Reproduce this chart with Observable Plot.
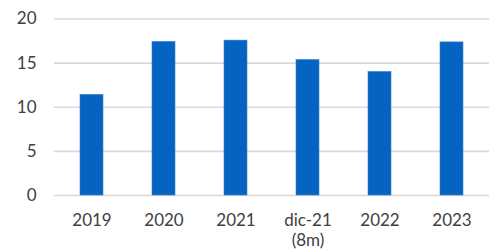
<!DOCTYPE html>
<html>
<head>
<meta charset="utf-8">
<script src="https://cdn.jsdelivr.net/npm/d3@7"></script>
<script src="https://cdn.jsdelivr.net/npm/@observablehq/plot@0.6"></script>
<style>
  html, body { margin: 0; padding: 0; background: #fff; }
  #chart { width: 489px; height: 252px; }
</style>
</head>
<body>
<div id="chart"></div>
<script>
const categories = ["2019", "2020", "2021", "dic-21", "2022", "2023"];
const tickLabels = ["2019", "2020", "2021", "dic-21\n(8m)", "2022", "2023"];
const values = [11.4, 17.4, 17.55, 15.35, 14.0, 17.35];
const yTicks = [0, 5, 10, 15, 20];

const data = categories.map((c, i) => ({cat: c, value: values[i]}));
const labelOf = new Map(categories.map((c, i) => [c, tickLabels[i]]));

const chart = Plot.plot({
  width: 489,
  height: 252,
  marginLeft: 54,
  marginRight: 0,
  marginTop: 18.5,
  marginBottom: 57,
  style: {fontFamily: "Lato, sans-serif", fontSize: "17px", color: "#404040", background: "#fff"},
  x: {domain: categories, paddingInner: 0.68, paddingOuter: 0.34, align: 0.5, label: null},
  y: {domain: [0, 20], label: null},
  marks: [
    Plot.ruleY(yTicks, {stroke: "#d9d9d9", strokeWidth: 1.6}),
    Plot.barY(data, {x: "cat", y: "value", fill: "#0563c1", stroke: "#3a7fcc", strokeWidth: 0.6}),
    Plot.axisY({ticks: yTicks, tickSize: 0, tickPadding: 18, fontSize: 17, fill: "#404040", label: null}),
    Plot.axisX({tickSize: 0, tickPadding: 16, fontSize: 17, fill: "#404040", lineHeight: 1.18, tickFormat: d => labelOf.get(d), label: null})
  ]
});
document.getElementById("chart").appendChild(chart);
</script>
</body>
</html>
